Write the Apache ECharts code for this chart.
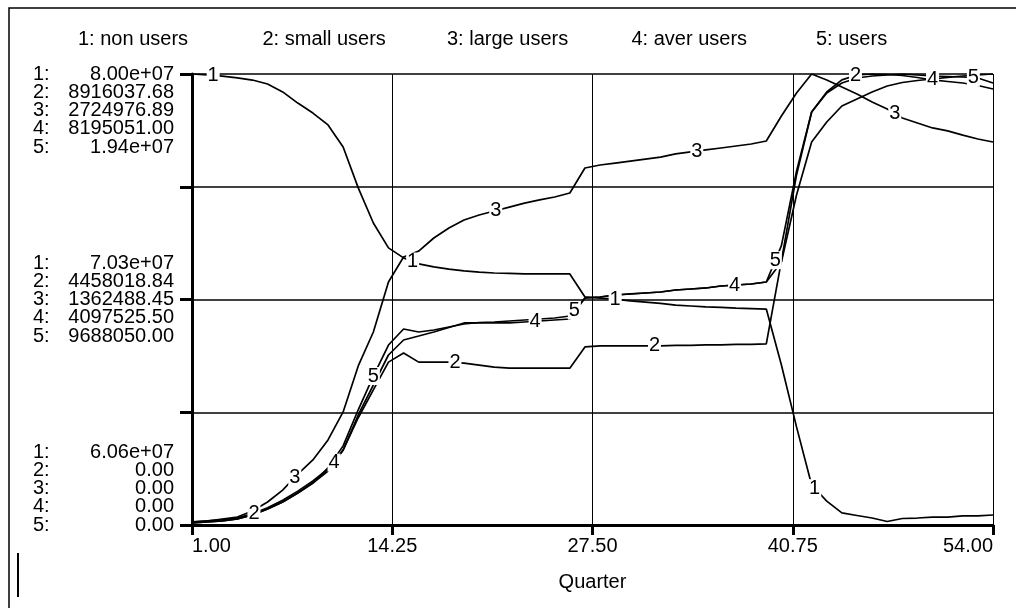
<!DOCTYPE html>
<html><head><meta charset="utf-8">
<script src="https://cdn.jsdelivr.net/npm/echarts@6/dist/echarts.min.js"></script>
<style>html,body{margin:0;padding:0;background:#fff}#c{width:1016px;height:608px}</style>
</head><body><div id="c"></div>
<script>
// ---- data (values in millions) ----
const quarters = [1,2,3,4,5,6,7,8,9,10,11,12,13,14,15,16,17,18,19,20,21,22,23,24,25,26,27,28,29,30,31,32,33,34,35,36,37,38,39,40,41,42,43,44,45,46,47,48,49,50,51,52,53,54];
const seriesNames = ['non users','small users','large users','aver users','users'];
const nonUsers = [80.00,79.96,79.91,79.83,79.74,79.57,79.23,78.75,78.32,77.81,76.86,75.10,73.59,72.52,72.09,71.83,71.70,71.61,71.53,71.48,71.44,71.42,71.40,71.40,71.40,71.40,70.41,70.36,70.32,70.24,70.19,70.13,70.06,70.02,69.98,69.96,69.93,69.91,69.89,67.48,64.82,62.32,61.63,61.12,61.01,60.90,60.75,60.88,60.90,60.94,60.94,60.99,60.99,61.03];
const smallUsers = [0.06,0.08,0.10,0.14,0.22,0.34,0.49,0.67,0.87,1.11,1.48,2.12,2.67,3.22,3.40,3.22,3.22,3.22,3.20,3.16,3.12,3.10,3.10,3.10,3.10,3.10,3.52,3.54,3.54,3.54,3.54,3.54,3.55,3.55,3.56,3.56,3.57,3.57,3.58,5.22,6.92,8.165,8.56,8.80,8.897,8.916,8.906,8.887,8.847,8.798,8.768,8.738,8.689,8.620];
const largeUsers = [0.018,0.024,0.036,0.048,0.085,0.139,0.211,0.308,0.393,0.514,0.683,0.961,1.166,1.468,1.619,1.655,1.734,1.794,1.843,1.873,1.897,1.921,1.945,1.964,1.982,2.006,2.157,2.175,2.187,2.199,2.211,2.223,2.242,2.254,2.266,2.278,2.290,2.302,2.320,2.471,2.610,2.725,2.689,2.646,2.604,2.556,2.513,2.459,2.429,2.399,2.381,2.356,2.332,2.314];
const averUsers = [0.036,0.055,0.073,0.109,0.182,0.291,0.418,0.581,0.763,0.981,1.363,1.999,2.544,3.089,3.362,3.434,3.507,3.589,3.671,3.671,3.671,3.671,3.689,3.707,3.725,3.743,4.125,4.143,4.179,4.198,4.216,4.234,4.270,4.288,4.307,4.343,4.361,4.379,4.416,4.779,5.996,6.960,7.323,7.614,7.741,7.868,7.977,8.041,8.077,8.104,8.132,8.159,8.177,8.195];
const users = [0.086,0.129,0.172,0.258,0.430,0.687,0.988,1.375,1.804,2.450,3.400,4.950,6.400,7.733,8.421,8.292,8.378,8.507,8.636,8.700,8.721,8.764,8.807,8.850,8.893,8.979,9.753,9.796,9.881,9.924,9.967,10.010,10.096,10.139,10.182,10.268,10.311,10.354,10.440,12.000,15.200,17.744,18.560,18.990,19.204,19.290,19.333,19.376,19.333,19.290,19.269,19.247,19.204,18.990];
const scaleMin = [60.6, 0, 0, 0, 0];
const scaleMax = [80.0, 8.91603768, 2.72497689, 8.195051, 19.3761];
const topLabels = ['8.00e+07','8916037.68','2724976.89','8195051.00','1.94e+07'];
const midLabels = ['7.03e+07','4458018.84','1362488.45','4097525.50','9688050.00'];
const bottomLabels = ['6.06e+07','0.00','0.00','0.00','0.00'];
const seriesKeys = ['1:','2:','3:','4:','5:'];
const xTickLabels = ['1.00','14.25','27.50','40.75','54.00'];
const xAxisTitle = 'Quarter';
// quarters where each series' number tag sits on its curve
const labelAt = [[2.4,15.6,29.0,42.2],[5.1,18.4,31.6,44.9],[7.8,21.1,34.4,47.5],[10.4,23.7,36.9,50.0],[13.0,26.3,39.6,52.7]];

const allSeries = [nonUsers, smallUsers, largeUsers, averUsers, users];
const FONT = 'Liberation Sans';
const X_OFF = 1; // axis runs 0..53 so ticks fall on multiples of 13.25

function valueAt(arr, q) {
  const i = q - quarters[0];
  const i0 = Math.max(0, Math.min(arr.length - 1, Math.floor(i)));
  const i1 = Math.min(arr.length - 1, i0 + 1);
  const f = i - i0;
  return arr[i0] + (arr[i1] - arr[i0]) * f;
}
function block(lines, where) {
  const blanks = ['', '', '', ''];
  if (where === 'top') return blanks.concat(lines).join('\n');
  if (where === 'bottom') return lines.concat(blanks).join('\n');
  return lines.join('\n');
}
function groupFor(v, top, mid, bottom) {
  return v === 4 ? block(top, 'top') : v === 2 ? block(mid, 'mid') : v === 0 ? block(bottom, 'bottom') : '';
}

const chart = echarts.init(document.getElementById('c'), null, {renderer: 'canvas'});
const labelFont = {color: '#000', fontFamily: FONT, fontSize: 20, lineHeight: 18.25};
const yAxes = [{
  type: 'value', min: 0, max: 4, interval: 1,
  axisLine: {show: true, lineStyle: {color: '#000', width: 3}},
  axisTick: {show: true, length: 12, lineStyle: {color: '#000', width: 3}},
  splitLine: {show: true, lineStyle: {color: '#000', width: 1.5}},
  axisLabel: Object.assign({margin: 18, align: 'right',
    formatter: v => groupFor(v, topLabels, midLabels, bottomLabels)}, labelFont)
}];
for (let k = 0; k < 5; k++) yAxes.push({type: 'value', min: scaleMin[k], max: scaleMax[k], show: false});
// series-number column of the left labels
yAxes.push({
  type: 'value', min: 0, max: 4, interval: 1, position: 'left', offset: 0,
  axisLine: {show: false}, axisTick: {show: false}, splitLine: {show: false},
  axisLabel: Object.assign({margin: 159, align: 'left',
    formatter: v => groupFor(v, seriesKeys, seriesKeys, seriesKeys)}, labelFont)
});

const series = allSeries.map((arr, k) => ({
  name: seriesNames[k], type: 'line', yAxisIndex: k + 1,
  data: arr.map((v, i) => [quarters[i] - X_OFF, v]),
  showSymbol: false, symbol: 'none', color: '#000',
  lineStyle: {color: '#000', width: 1.7}, animation: false, silent: true,
  markPoint: {
    symbol: 'rect', symbolSize: [13, 18], silent: true, animation: false,
    itemStyle: {color: '#fff'},
    label: {show: true, position: 'inside', color: '#000', fontSize: 20, fontFamily: FONT, formatter: String(k + 1)},
    data: labelAt[k].map(q => ({coord: [q - X_OFF, valueAt(arr, q)]}))
  }
}));

const legends = seriesNames.map((n, i) => ({
  data: [n], left: 73 + i * 184.5, top: 29, itemWidth: 0, itemHeight: 0, itemGap: 0, icon: 'rect',
  selectedMode: false, padding: 0,
  formatter: name => (seriesNames.indexOf(name) + 1) + ': ' + name,
  textStyle: {color: '#000', fontSize: 20, fontFamily: FONT}
}));

chart.setOption({
  backgroundColor: '#fff',
  animation: false,
  textStyle: {fontFamily: FONT},
  grid: {left: 192, right: 23, top: 74, bottom: 83, containLabel: false, outerBoundsMode: 'none'},
  legend: legends,
  xAxis: {
    type: 'value', min: 0, max: quarters[quarters.length - 1] - X_OFF, interval: 13.25,
    name: xAxisTitle, nameLocation: 'middle', nameGap: 47,
    nameTextStyle: {color: '#000', fontSize: 20, fontFamily: FONT},
    axisLine: {show: true, lineStyle: {color: '#000', width: 3}},
    axisTick: {show: true, length: 10, lineStyle: {color: '#000', width: 3}},
    splitLine: {show: true, lineStyle: {color: '#000', width: 1}},
    axisLabel: {
      margin: 11, color: '#000', fontSize: 20, fontFamily: FONT,
      alignMinLabel: 'left', alignMaxLabel: 'right',
      formatter: v => xTickLabels[Math.round(v / 13.25)]
    }
  },
  yAxis: yAxes,
  series: series,
  graphic: [
    {type: 'rect', silent: true, shape: {x: 9, y: 8, width: 1100, height: 700}, style: {fill: 'none', stroke: '#000', lineWidth: 1.5}},
    {type: 'line', silent: true, shape: {x1: 18, y1: 553, x2: 18, y2: 597}, style: {stroke: '#000', lineWidth: 2}}
  ]
});
</script></body></html>
